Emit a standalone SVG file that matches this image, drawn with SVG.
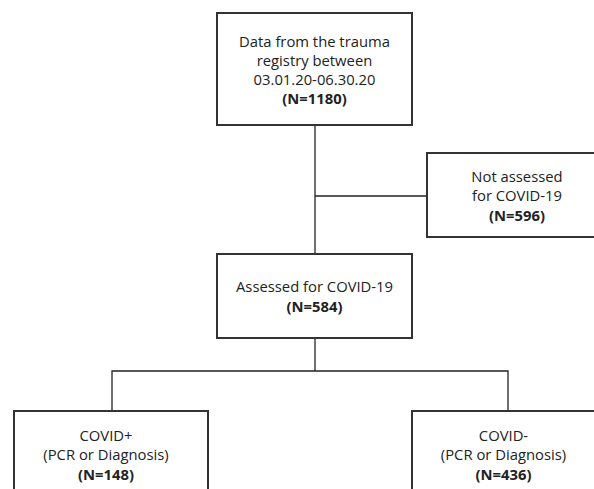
<svg xmlns="http://www.w3.org/2000/svg" width="594" height="489" viewBox="0 0 594 489">
<style>
.box{fill:#fff;stroke:#333;stroke-width:2}
.con{fill:none;stroke:#222;stroke-width:1.3}
text{font-family:"Open Sans","Liberation Sans",sans-serif;font-size:14.8px;fill:#222;text-anchor:middle}
.b{font-weight:bold}
</style>
<rect width="594" height="489" fill="#fff"/>
<g id="connectors">
<line class="con" x1="315" y1="125" x2="315" y2="254"/>
<line class="con" x1="315" y1="196" x2="427" y2="196"/>
<line class="con" x1="315" y1="338" x2="315" y2="371"/>
<polyline class="con" points="112,411 112,371 508,371 508,411"/>
</g>
<g id="n1">
<rect class="box" x="217" y="13" width="195" height="112"/>
<text x="314.5" y="47">Data from the trauma</text>
<text x="314.5" y="66">registry between</text>
<text x="314.5" y="84.5">03.01.20-06.30.20</text>
<text class="b" x="314.5" y="103.5">(N=1180)</text>
</g>
<g id="n2">
<rect class="box" x="427" y="153" width="180" height="84"/>
<text x="517" y="182">Not assessed</text>
<text x="517" y="201">for COVID-19</text>
<text class="b" x="517" y="220.5">(N=596)</text>
</g>
<g id="n3">
<rect class="box" x="217" y="254" width="195" height="84"/>
<text x="314.5" y="292">Assessed for COVID-19</text>
<text class="b" x="314.5" y="312">(N=584)</text>
</g>
<g id="n4">
<rect class="box" x="14" y="411" width="194" height="90"/>
<text x="106" y="441">COVID+</text>
<text x="106" y="460">(PCR or Diagnosis)</text>
<text class="b" x="106" y="479.5">(N=148)</text>
</g>
<g id="n5">
<rect class="box" x="412" y="411" width="185" height="90"/>
<text x="503.5" y="441">COVID-</text>
<text x="503.5" y="460">(PCR or Diagnosis)</text>
<text class="b" x="503.5" y="479.5">(N=436)</text>
</g>
</svg>
